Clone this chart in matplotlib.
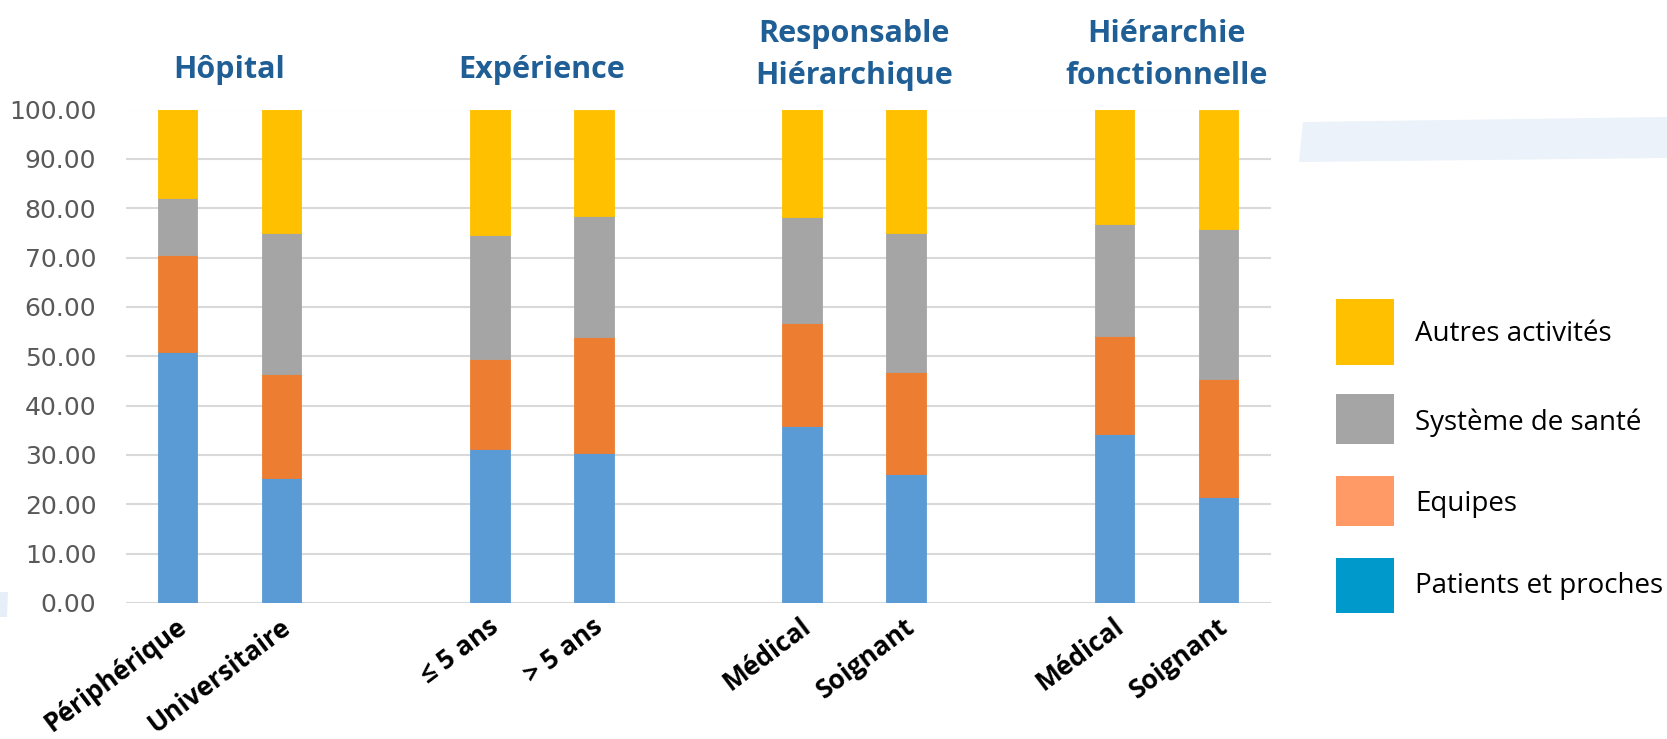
import matplotlib
matplotlib.use("Agg")
import matplotlib.pyplot as plt
from matplotlib.patches import Polygon, Rectangle
import matplotlib.transforms as mtransforms

# ---------------- data ----------------
groups = ["Hôpital", "Expérience", "Responsable\nHiérarchique", "Hiérarchie\nfonctionnelle"]
categories = ["Périphérique", "Universitaire", "≤ 5 ans", "> 5 ans",
              "Médical", "Soignant", "Médical", "Soignant"]
patients = [50.9, 25.4, 31.3, 30.3, 35.9, 26.2, 34.3, 21.4]
equipes = [19.6, 21.1, 18.1, 23.7, 20.8, 20.7, 19.8, 23.9]
systeme = [11.6, 28.5, 25.1, 24.4, 21.5, 28.1, 22.7, 30.4]
autres = [17.9, 25.0, 25.5, 21.6, 21.8, 25.0, 23.2, 24.3]
series_names = ["Patients et proches", "Equipes", "Système de santé", "Autres activités"]
yticks = [0, 10, 20, 30, 40, 50, 60, 70, 80, 90, 100]

bar_colors = ["#5B9BD5", "#ED7D31", "#A5A5A5", "#FFC000"]
legend_colors = ["#0099CC", "#FF9966", "#A5A5A5", "#FFC000"]

W, H = 1667, 739
fig = plt.figure(figsize=(W / 100, H / 100), dpi=100)
fig.patch.set_facecolor("white")

def fx(px):
    return px / W

def fy(py):
    return 1 - py / H

# background decorative shapes
fig.patches.append(Polygon([(fx(1303), fy(122)), (fx(1667), fy(117)), (fx(1667), fy(158)), (fx(1299), fy(162))],
                           closed=True, transform=fig.transFigure, facecolor="#EBF2F9", edgecolor="none", zorder=0))
fig.patches.append(Polygon([(fx(0), fy(592)), (fx(8), fy(592)), (fx(7), fy(617)), (fx(0), fy(617))],
                           closed=True, transform=fig.transFigure, facecolor="#E6EEF7", edgecolor="none", zorder=0))

ax = fig.add_axes([fx(125.5), fy(603), fx(1270.5) - fx(125.5), fy(109.5) - fy(603)])
ax.set_facecolor("none")

# positions: 2 categories per group, one empty slot between groups
per_group = 2
slot = per_group + 1
xpos = [g * slot + j for g in range(len(groups)) for j in range(per_group)]

series = [patients, equipes, systeme, autres]
bottom = [0.0] * len(categories)
for vals, col, name in zip(series, bar_colors, series_names):
    ax.bar(xpos, vals, width=0.38, bottom=bottom, color=col, edgecolor=col, linewidth=0.6, label=name, zorder=3)
    bottom = [b + v for b, v in zip(bottom, vals)]

ax.set_xlim(-0.5, xpos[-1] + 0.5)
ax.set_ylim(0, 100)
ax.set_yticks(yticks)
ax.set_yticklabels([f"{v:.2f}" for v in yticks], fontsize=18, color="#595959", family="DejaVu Sans")
ax.yaxis.grid(True, color="#D9D9D9", linewidth=1.5, zorder=0)
ax.set_axisbelow(True)
for s in ax.spines.values():
    s.set_visible(False)
ax.tick_params(axis="both", length=0)
ax.tick_params(axis="y", pad=21)

ax.set_xticks(xpos)
ax.set_xticklabels(categories, rotation=37, ha="right", va="top", rotation_mode="anchor",
                   fontsize=19, fontweight="bold", family="Open Sans", color="black")
offset = mtransforms.ScaledTranslation(-2 / 100, -5 / 100, fig.dpi_scale_trans)
for lbl in ax.get_xticklabels():
    lbl.set_transform(lbl.get_transform() + offset)

# group titles
blend = mtransforms.blended_transform_factory(ax.transData, fig.transFigure)
for g, title in enumerate(groups):
    xc = g * slot + (per_group - 1) / 2
    ycen = 70 if "\n" not in title else 55
    ax.text(xc, fy(ycen), title, transform=blend, ha="center", va="center",
            fontsize=22, fontweight="bold", family="Open Sans", color="#1F5F96", linespacing=1.5)

# legend (drawn manually to match the reference layout)
leg_boxes = [(299, 365), (394, 444), (476, 526), (558, 613)]
leg_text_y = [334, 423, 504, 586]
leg_order = [3, 2, 1, 0]
for (top, bot), ty, idx in zip(leg_boxes, leg_text_y, leg_order):
    fig.patches.append(Rectangle((fx(1336), fy(bot)), fx(1394) - fx(1336), fy(top) - fy(bot),
                                 transform=fig.transFigure, facecolor=legend_colors[idx], edgecolor="none"))
    fig.text(fx(1415), fy(ty), series_names[idx], ha="left", va="center",
             fontsize=20, family="Open Sans", color="black")

fig.savefig("out.png", dpi=100)
